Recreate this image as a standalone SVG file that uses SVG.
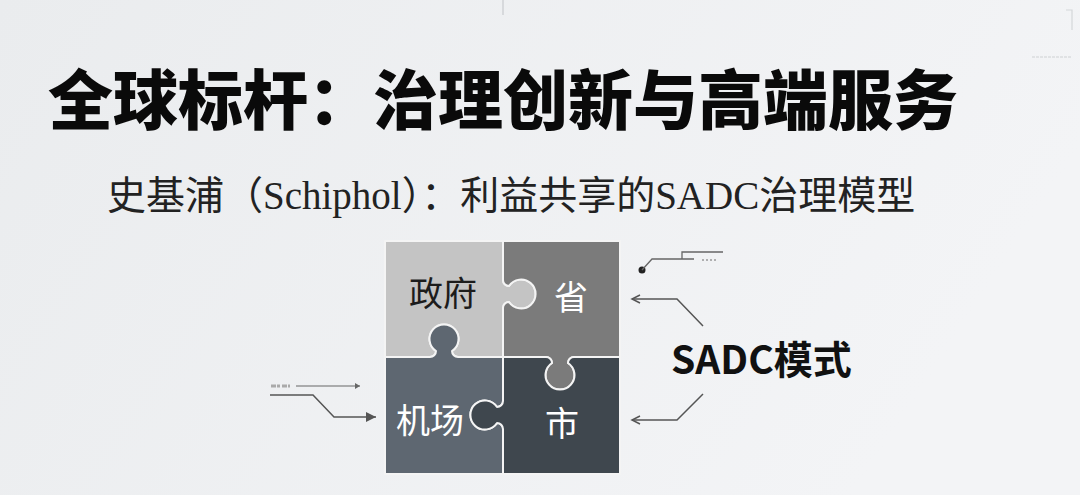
<svg xmlns="http://www.w3.org/2000/svg" width="1080" height="495" viewBox="0 0 1080 495">
  <defs>
    <linearGradient id="bg" x1="0" y1="0" x2="1" y2="0.3">
      <stop offset="0" stop-color="#eaecee"/>
      <stop offset="1" stop-color="#f3f4f6"/>
    </linearGradient>
    <marker id="chev" markerUnits="userSpaceOnUse" markerWidth="12" markerHeight="12" refX="9" refY="5" orient="auto">
      <path d="M1,1 L9,5 L1,9" fill="none" stroke="#555" stroke-width="1.5"/>
    </marker>
    <marker id="tri" markerUnits="userSpaceOnUse" markerWidth="12" markerHeight="12" refX="10" refY="5" orient="auto">
      <path d="M0,0 L10,5 L0,10 Z" fill="#555"/>
    </marker>
    <marker id="tris" markerUnits="userSpaceOnUse" markerWidth="8" markerHeight="8" refX="5" refY="3" orient="auto">
      <path d="M0,0 L5,3 L0,6 Z" fill="#666"/>
    </marker>
  </defs>
  <style>
    .title { font-family: "Noto Sans CJK SC", "Noto Sans", sans-serif; font-weight: 900; fill: #0a0a0a; }
    .sub { font-family: "Liberation Serif", "Noto Sans CJK SC", serif; fill: #222; }
    .pz { font-family: "Noto Sans CJK SC", "Noto Sans", sans-serif; font-size: 34px; }
    .piece { stroke: #f4f4f4; stroke-width: 2; stroke-linejoin: round; }
    .conn { fill: none; stroke: #555; stroke-width: 1.5; }
    .lbl { font-family: "Noto Sans CJK SC", "Noto Sans", sans-serif; font-weight: 700; font-size: 39px; fill: #111; }
  </style>

  <rect x="0" y="0" width="1080" height="495" fill="url(#bg)"/>
  <!-- faint marks -->
  <line x1="503" y1="0" x2="503" y2="15" stroke="#cfd2d4" stroke-width="1.5"/>
  <path d="M1066,10 H1072 V30" fill="none" stroke="#d4d7d9" stroke-width="1.2"/>
  <line x1="1032" y1="57" x2="1072" y2="57" stroke="#e0e2e4" stroke-width="2" stroke-dasharray="3,1"/>

  <g id="title">
    <text class="title" x="48" y="124" font-size="65">全球标杆：治理创新与高端服务</text>
  </g>
  <g id="subtitle">
    <text class="sub" x="107" y="209" font-size="39">史基浦（Schiphol）：利益共享的SADC治理模型</text>
  </g>

  <g id="piece-government">
    <path class="piece" fill="#c4c4c4" d="M385,241 H503 V280 A6,6 0 0 0 509,286 A14.5,14.5 0 1 1 509,302 A6,6 0 0 0 503,308 V357 H458 A6,6 0 0 1 452,351 A14.5,14.5 0 1 0 436,351 A6,6 0 0 1 430,357 H385 Z"/>
    <text class="pz" x="443" y="306" text-anchor="middle" fill="#1c1c1c">政府</text>
  </g>
  <g id="piece-province">
    <path class="piece" fill="#7b7b7b" d="M503,241 H620 V357 H574 A6,6 0 0 0 568,363 A14.5,14.5 0 1 1 552,363 A6,6 0 0 0 546,357 H503 V308 A6,6 0 0 1 509,302 A14.5,14.5 0 1 0 509,286 A6,6 0 0 1 503,280 Z"/>
    <text class="pz" x="571" y="310" text-anchor="middle" fill="#ffffff">省</text>
  </g>
  <g id="piece-airport">
    <path class="piece" fill="#5e6771" d="M385,357 H430 A6,6 0 0 0 436,351 A14.5,14.5 0 1 1 452,351 A6,6 0 0 0 458,357 H503 V401 A6,6 0 0 1 497,407 A14.5,14.5 0 1 0 497,423 A6,6 0 0 1 503,429 V474 H385 Z"/>
    <text class="pz" x="430" y="433" text-anchor="middle" fill="#ffffff">机场</text>
  </g>
  <g id="piece-city">
    <path class="piece" fill="#3f474e" d="M503,357 H546 A6,6 0 0 1 552,363 A14.5,14.5 0 1 0 568,363 A6,6 0 0 1 574,357 H620 V474 H503 V429 A6,6 0 0 0 497,423 A14.5,14.5 0 1 1 497,407 A6,6 0 0 0 503,401 Z"/>
    <text class="pz" x="562" y="436" text-anchor="middle" fill="#ffffff">市</text>
  </g>

  <g id="sadc-label">
    <text class="lbl" x="671" y="374">SADC模式</text>
  </g>

  <g id="connectors">
    <polyline class="conn" points="703,326 677,299 632,299" marker-end="url(#chev)"/>
    <polyline class="conn" points="703,394 677,420 632,420" marker-end="url(#chev)"/>
    <circle cx="642" cy="270" r="3.5" fill="#222"/>
    <polyline fill="none" stroke="#666" stroke-width="1.3" points="642,270 652,259 694,259"/>
    <polyline fill="none" stroke="#666" stroke-width="1.3" points="682,259 682,252 723,252"/>
    <line x1="702" y1="260" x2="718" y2="260" stroke="#999" stroke-width="1.5" stroke-dasharray="2,2"/>
    <line x1="271" y1="386" x2="290" y2="386" stroke="#aaa" stroke-width="3" stroke-dasharray="5,1,3,2"/>
    <line x1="296" y1="386" x2="360" y2="386" stroke="#666" stroke-width="1.2" marker-end="url(#tris)"/>
    <polyline class="conn" points="270,395 313,395 334,417 376,417" marker-end="url(#tri)"/>
  </g>
</svg>
